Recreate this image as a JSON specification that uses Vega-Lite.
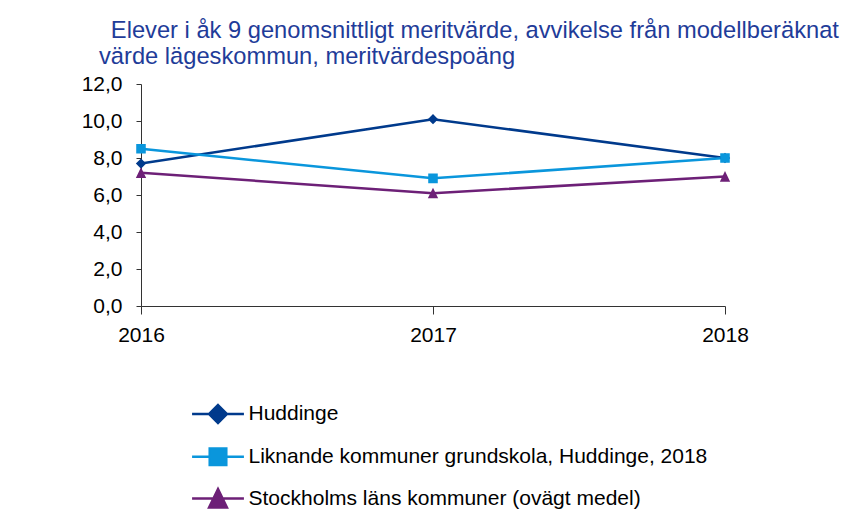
{
  "$schema": "https://vega.github.io/schema/vega-lite/v6.json",
  "width": 584,
  "height": 222,
  "autosize": {"type": "none"},
  "padding": {"left": 141, "top": 84, "right": 120, "bottom": 208},
  "background": "white",
  "config": {"view": {"stroke": null}, "font": "Liberation Sans"},
  "title": {
    "text": ["\u200b\u2002Elever i åk 9 genomsnittligt meritvärde, avvikelse från modellberäknat", "värde lägeskommun, meritvärdespoäng"],
    "anchor": "start",
    "frame": "group",
    "color": "#1F3C99",
    "font": "Liberation Sans",
    "fontSize": 23.7,
    "fontWeight": "normal",
    "dx": -42,
    "offset": 4,
    "lineHeight": 26.5
  },
  "data": {
    "values": [
      {"year": "2016", "series": "Huddinge", "value": 7.7},
      {"year": "2017", "series": "Huddinge", "value": 10.1},
      {"year": "2018", "series": "Huddinge", "value": 8.0},
      {"year": "2016", "series": "Liknande kommuner grundskola, Huddinge, 2018", "value": 8.5},
      {"year": "2017", "series": "Liknande kommuner grundskola, Huddinge, 2018", "value": 6.9},
      {"year": "2018", "series": "Liknande kommuner grundskola, Huddinge, 2018", "value": 8.0},
      {"year": "2016", "series": "Stockholms läns kommuner (ovägt medel)", "value": 7.2},
      {"year": "2017", "series": "Stockholms läns kommuner (ovägt medel)", "value": 6.1},
      {"year": "2018", "series": "Stockholms läns kommuner (ovägt medel)", "value": 7.0}
    ]
  },
  "encoding": {
    "x": {
      "field": "year",
      "type": "ordinal",
      "scale": {"type": "point", "padding": 0},
      "axis": {
        "title": null,
        "labelAngle": 0,
        "labelFontSize": 21,
        "labelColor": "black",
        "labelFont": "Liberation Sans",
        "domainColor": "#333333",
        "tickColor": "#333333",
        "tickSize": 8,
        "labelPadding": 10,
        "grid": false
      }
    },
    "y": {
      "field": "value",
      "type": "quantitative",
      "scale": {"domain": [0, 12], "nice": false, "zero": true},
      "axis": {
        "title": null,
        "values": [0, 2, 4, 6, 8, 10, 12],
        "labelExpr": "replace(format(datum.value, '.1f'), '.', ',')",
        "labelFontSize": 21,
        "labelColor": "black",
        "labelFont": "Liberation Sans",
        "domainColor": "#333333",
        "tickColor": "#333333",
        "tickSize": 5,
        "labelPadding": 14,
        "grid": false
      }
    }
  },
  "layer": [
    {
      "mark": {"type": "line", "strokeWidth": 2.5},
      "encoding": {
        "stroke": {
          "field": "series",
          "type": "nominal",
          "scale": {
            "domain": ["Huddinge", "Liknande kommuner grundskola, Huddinge, 2018", "Stockholms läns kommuner (ovägt medel)"],
            "range": ["#003A8C", "#0A96DC", "#6D2077"]
          },
          "legend": null
        }
      }
    },
    {
      "mark": {"type": "point", "filled": true, "opacity": 1, "size": 600},
      "encoding": {
        "color": {
          "field": "series",
          "type": "nominal",
          "scale": {
            "domain": ["Huddinge", "Liknande kommuner grundskola, Huddinge, 2018", "Stockholms läns kommuner (ovägt medel)"],
            "range": ["#003A8C", "#0A96DC", "#6D2077"]
          },
          "legend": {
            "orient": "none",
            "legendX": 54.5,
            "legendY": 307.5,
            "title": null,
            "direction": "vertical",
            "symbolSize": 1806,
            "symbolStrokeWidth": 2.5,
            "symbolOpacity": 1,
            "labelFontSize": 21,
            "labelFont": "Liberation Sans",
            "labelColor": "black",
            "labelOffset": 8,
            "rowPadding": 5.8,
            "padding": 0,
            "labelLimit": 600,
            "encode": {
              "symbols": {
                "update": {
                  "stroke": {"scale": "color", "field": "value"},
                  "strokeWidth": {"value": 2.5},
                  "size": {"value": 1806},
                  "opacity": {"value": 1}
                }
              }
            }
          }
        },
        "shape": {
          "field": "series",
          "type": "nominal",
          "scale": {
            "domain": ["Huddinge", "Liknande kommuner grundskola, Huddinge, 2018", "Stockholms läns kommuner (ovägt medel)"],
            "range": [
              "M-1.22,0H1.22M0,-0.42L0.42,0L0,0.42L-0.42,0Z",
              "M-1.22,0H1.22M-0.39,-0.39H0.39V0.39H-0.39Z",
              "M-1.22,0H1.22M0,-0.45L0.42,0.42H-0.42Z"
            ]
          },
          "legend": {
            "orient": "none",
            "legendX": 54.5,
            "legendY": 307.5,
            "title": null,
            "direction": "vertical",
            "symbolSize": 1806,
            "symbolStrokeWidth": 2.5,
            "symbolOpacity": 1,
            "labelFontSize": 21,
            "labelFont": "Liberation Sans",
            "labelColor": "black",
            "labelOffset": 8,
            "rowPadding": 5.8,
            "padding": 0,
            "labelLimit": 600,
            "encode": {
              "symbols": {
                "update": {
                  "stroke": {"scale": "color", "field": "value"},
                  "strokeWidth": {"value": 2.5},
                  "size": {"value": 1806},
                  "opacity": {"value": 1}
                }
              }
            }
          }
        }
      }
    }
  ],
  "resolve": {"legend": {"stroke": "independent", "color": "independent", "shape": "independent"}}
}
